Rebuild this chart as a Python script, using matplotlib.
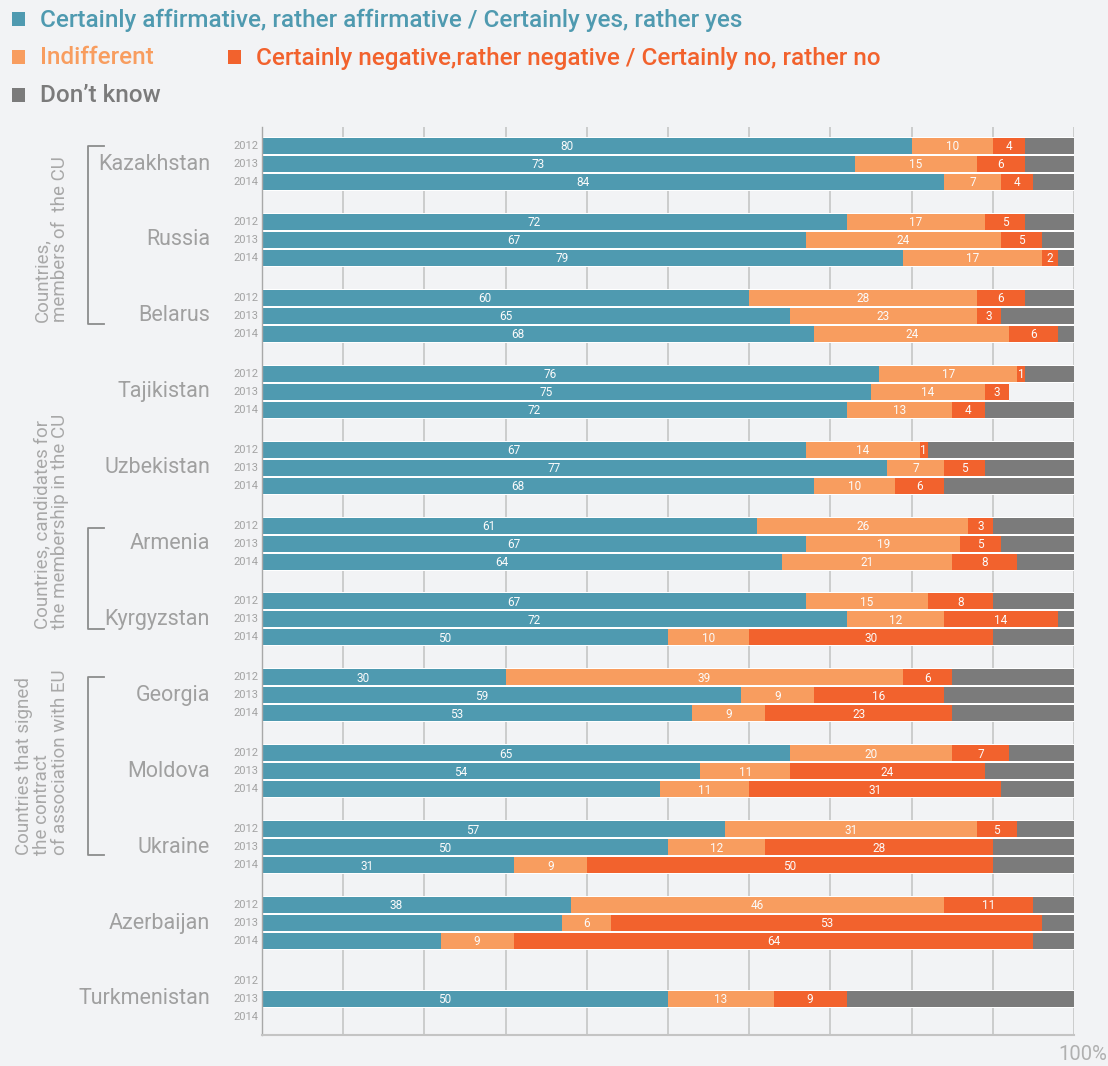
import numpy as np
import matplotlib
matplotlib.use("Agg")
import matplotlib.pyplot as plt
from matplotlib.lines import Line2D
from matplotlib.patches import Rectangle
from matplotlib.transforms import blended_transform_factory

# ---------------- data ----------------
countries = ["Kazakhstan", "Russia", "Belarus", "Tajikistan", "Uzbekistan", "Armenia",
             "Kyrgyzstan", "Georgia", "Moldova", "Ukraine", "Azerbaijan", "Turkmenistan"]
years = ["2012", "2013", "2014"]
N = np.nan
yes = [[80, 73, 84], [72, 67, 79], [60, 65, 68], [76, 75, 72], [67, 77, 68], [61, 67, 64],
       [67, 72, 50], [30, 59, 53], [65, 54, 49], [57, 50, 31], [38, 37, 22], [N, 50, N]]
indifferent = [[10, 15, 7], [17, 24, 17], [28, 23, 24], [17, 14, 13], [14, 7, 10], [26, 19, 21],
               [15, 12, 10], [49, 9, 9], [20, 11, 11], [31, 12, 9], [46, 6, 9], [N, 13, N]]
negative = [[4, 6, 4], [5, 5, 2], [6, 3, 6], [1, 3, 4], [1, 5, 6], [3, 5, 8],
            [8, 14, 30], [6, 16, 23], [7, 24, 31], [5, 28, 50], [11, 53, 64], [N, 9, N]]
dont_know = [[6, 6, 5], [6, 4, 2], [6, 9, 2], [6, 0, 11], [18, 11, 16], [10, 9, 7],
             [10, 2, 10], [15, 16, 15], [8, 11, 9], [7, 10, 10], [5, 4, 5], [N, 28, N]]
unlabelled_yes = [("Moldova", "2014"), ("Azerbaijan", "2013"), ("Azerbaijan", "2014")]
# label printed in the original differs from the drawn bar width
printed_labels = {("Georgia", "2012", 1): "39"}

series_names = ["Certainly affirmative, rather affirmative / Certainly yes, rather yes",
                "Indifferent",
                "Certainly negative,rather negative / Certainly no, rather no",
                "Don\u2019t know"]
group_texts = ["Countries,\nmembers of  the CU",
               "Countries, candidates for\nthe membership in the CU",
               "Countries that signed\nthe contract\nof association with EU"]

# ---------------- style ----------------
colors = ["#4f9ab0", "#f89d5f", "#f2622d", "#7b7b7b"]
BG = "#f2f3f5"
GRAY_TXT = "#a3a3a3"
plt.rcParams['font.family'] = ['Roboto', 'DejaVu Sans']

W, H = 1108, 1066
fig = plt.figure(figsize=(W / 100, H / 100), dpi=100, facecolor=BG)
ax = fig.add_axes([262 / W, (H - 1035) / H, 812 / W, 908 / H])
ax.set_facecolor(BG)

ROW = 1.0
GSTEP = 75.9 / 18.0
BAR_H = 16.0 / 18.0

def ypos(g, j):
    return g * GSTEP + j * ROW

n_c = len(countries)
ax.set_xlim(0, 100)
ax.set_ylim(ypos(n_c - 1, 1) + 2.0, -19.0 / 18.0)

ax.set_xticks(np.arange(0, 101, 10))
ax.set_yticks([])
ax.tick_params(axis='x', length=0, labelbottom=False)
ax.grid(axis='x', color='#c9c9c9', lw=1.3, zorder=0)
ax.set_axisbelow(True)
for s in ['top', 'right']:
    ax.spines[s].set_visible(False)
ax.spines['left'].set_color('#a8a8a8')
ax.spines['left'].set_linewidth(1.0)
ax.spines['bottom'].set_color('#c4c4c4')
ax.spines['bottom'].set_linewidth(1.5)

series = [yes, indifferent, negative, dont_know]
trans_fx = blended_transform_factory(fig.transFigure, ax.transData)

for g, c in enumerate(countries):
    for j, yr in enumerate(years):
        y = ypos(g, j)
        fig.text(258 / W, y, yr, transform=trans_fx, ha='right', va='center',
                 fontsize=8, color=GRAY_TXT)
        vals = [s[g][j] for s in series]
        if np.isnan(vals[0]):
            continue
        total = np.nansum(vals)
        ax.barh(y, total, height=1.0, left=0, color='white', zorder=1, lw=0)
        left = 0
        for k, v in enumerate(vals):
            if v > 0:
                ax.barh(y, v, height=BAR_H, left=left, color=colors[k], zorder=2, lw=0)
                if k < 3:
                    show = not (k == 0 and (c, yr) in unlabelled_yes)
                    if show:
                        txt = printed_labels.get((c, yr, k), f"{int(v)}")
                        xt = left + v / 2 - (2.5 if k == 0 else 0)
                        ax.text(xt, y + 0.05, txt, ha='center', va='center',
                                fontsize=8.5, color='#fbfbfb', zorder=3)
            left += v
    fig.text(210 / W, ypos(g, 1), c, transform=trans_fx, ha='right', va='center',
             fontsize=15.5, color='#a0a0a0')

# brackets
def bracket(y0, y1):
    xs = [104 / W, 88 / W, 88 / W, 104 / W]
    ys = [y0, y0, y1, y1]
    fig.add_artist(Line2D(xs, ys, transform=trans_fx, color='#8c8c8c', lw=1.3))

bracket(ypos(0, 0), ypos(2, 1) + 0.45)
bracket(ypos(5, 0) + 0.15, ypos(6, 2) - 0.45)
bracket(ypos(7, 0), ypos(9, 1) + 0.45)

# group titles (rotated)
fig.text(51 / W, ypos(2, 1) + 0.35, group_texts[0], transform=trans_fx, rotation=90,
         ha='center', va='bottom', multialignment='left', fontsize=13.5,
         color='#a8a8a8', linespacing=1.0)
fig.text(51 / W, ypos(6, 2) - 0.45, group_texts[1], transform=trans_fx, rotation=90,
         ha='center', va='bottom', multialignment='left', fontsize=13.5,
         color='#a8a8a8', linespacing=1.0)
fig.text(42 / W, ypos(9, 1) + 0.45, group_texts[2], transform=trans_fx, rotation=90,
         ha='center', va='bottom', multialignment='left', fontsize=13.5,
         color='#a8a8a8', linespacing=1.0)

# legend
leg_pos = [(12, 19), (12, 57), (228, 57), (12, 95)]
for k, (lx, ly) in enumerate(leg_pos):
    fig.add_artist(Rectangle((lx / W, 1 - (ly + 7) / H), 13 / W, 14 / H,
                             transform=fig.transFigure, color=colors[k], lw=0))
    fig.text((lx + 28) / W, 1 - (ly + 1) / H, series_names[k], ha='left', va='center',
             fontsize=17.5, color=colors[k], fontweight='medium')

fig.text(1107 / W, 1 - 1055 / H, "100%", ha='right', va='center', fontsize=14.5,
         color='#b0b0b0')

fig.savefig("out.png", dpi=100, facecolor=BG)
